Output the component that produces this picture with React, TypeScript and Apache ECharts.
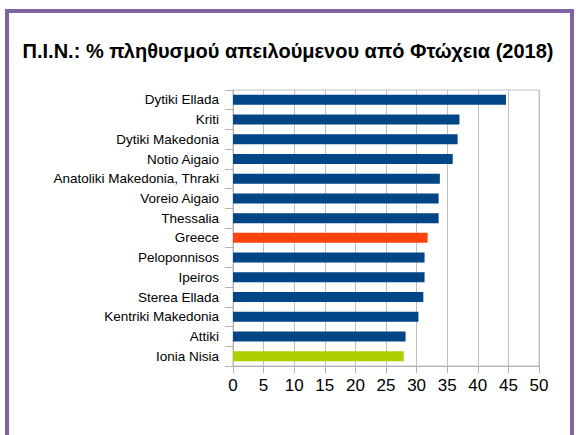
import React, { useEffect, useRef } from "react";
import * as echarts from "echarts";

const title = "Π.Ι.Ν.: % πληθυσμού απειλούμενου από Φτώχεια (2018)";
const categories = [
  "Dytiki Ellada",
  "Kriti",
  "Dytiki Makedonia",
  "Notio Aigaio",
  "Anatoliki Makedonia, Thraki",
  "Voreio Aigaio",
  "Thessalia",
  "Greece",
  "Peloponnisos",
  "Ipeiros",
  "Sterea Ellada",
  "Kentriki Makedonia",
  "Attiki",
  "Ionia Nisia",
];
const values = [44.6, 37.0, 36.7, 35.9, 33.8, 33.6, 33.6, 31.8, 31.3, 31.3, 31.1, 30.3, 28.2, 27.9];
const barColors = [
  "#004586", "#004586", "#004586", "#004586", "#004586", "#004586", "#004586",
  "#ff420e",
  "#004586", "#004586", "#004586", "#004586", "#004586",
  "#aecf00",
];

export default function App() {
  const ref = useRef<HTMLDivElement>(null);
  useEffect(() => {
    if (!ref.current) return;
    const chart = echarts.init(ref.current, undefined, { renderer: "svg" });
    chart.setOption({
      animation: false,
      backgroundColor: "#ffffff",
      graphic: [
        {
          type: "rect",
          z: -10,
          shape: { x: 7, y: 11, width: 565, height: 440 },
          style: { fill: "#ffffff", stroke: "#8064a2", lineWidth: 4 },
          silent: true,
        },
      ],
      title: {
        text: title,
        left: "center",
        top: 36,
        textStyle: {
          fontFamily: "Liberation Sans, Arial, sans-serif",
          fontWeight: "bold",
          fontSize: 20,
          color: "#000000",
        },
      },
      grid: {
        left: 233,
        right: 37,
        top: 90,
        bottom: 69,
        show: true,
        borderColor: "#c0c0c0",
        borderWidth: 1,
        backgroundColor: "transparent",
      },
      xAxis: {
        type: "value",
        min: 0,
        max: 50,
        interval: 5,
        axisLine: { show: true, lineStyle: { color: "#b3b3b3", width: 1 } },
        axisTick: { show: true, length: 7, lineStyle: { color: "#b3b3b3" } },
        splitLine: { show: true, lineStyle: { color: "#c0c0c0", width: 1 } },
        axisLabel: {
          fontFamily: "Liberation Sans, Arial, sans-serif",
          fontSize: 17,
          color: "#000000",
          margin: 11,
        },
      },
      yAxis: {
        type: "category",
        data: categories,
        inverse: true,
        axisLine: { show: true, lineStyle: { color: "#b3b3b3", width: 1 } },
        axisTick: { show: true, length: 8, lineStyle: { color: "#b3b3b3" } },
        splitLine: { show: false },
        axisLabel: {
          fontFamily: "Liberation Sans, Arial, sans-serif",
          fontSize: 13.5,
          color: "#000000",
          margin: 14,
        },
      },
      series: [
        {
          type: "bar",
          barWidth: 10,
          data: values.map((v, i) => ({ value: v, itemStyle: { color: barColors[i] } })),
        },
      ],
    });
    return () => chart.dispose();
  }, []);
  return (
    <div
      ref={ref}
      style={{ position: "fixed", left: 0, top: 0, width: 576, height: 435 }}
    />
  );
}
